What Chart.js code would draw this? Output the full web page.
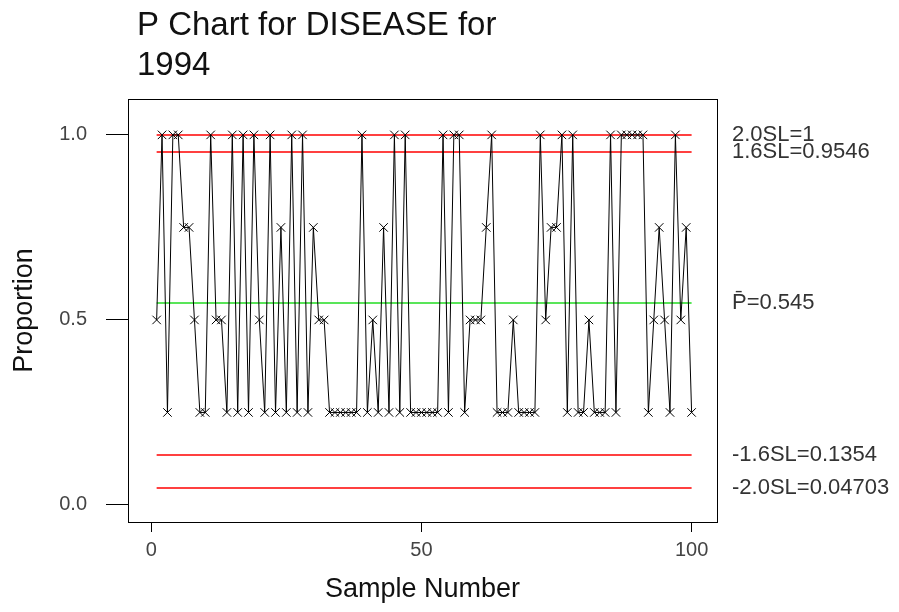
<!DOCTYPE html>
<html>
<head>
<meta charset="utf-8">
<script src="https://cdn.jsdelivr.net/npm/chart.js@4.4.1/dist/chart.umd.min.js"></script>
<style>
  html, body { margin: 0; padding: 0; background: #fff; }
  #wrap { width: 899px; height: 612px; }
</style>
</head>
<body>
<div id="wrap"><canvas id="pChart"></canvas></div>
<script>
// proportion of DISEASE per sample, 1994 (samples 1..100)
const proportions = [
    0.5, 1, 0.25, 1, 1, 0.75, 0.75, 0.5, 0.25, 0.25,
    1, 0.5, 0.5, 0.25, 1, 0.25, 1, 0.25, 1, 0.5,
    0.25, 1, 0.25, 0.75, 0.25, 1, 0.25, 1, 0.25, 0.75,
    0.5, 0.5, 0.25, 0.25, 0.25, 0.25, 0.25, 0.25, 1, 0.25,
    0.5, 0.25, 0.75, 0.25, 1, 0.25, 1, 0.25, 0.25, 0.25,
    0.25, 0.25, 0.25, 1, 0.25, 1, 1, 0.25, 0.5, 0.5,
    0.5, 0.75, 1, 0.25, 0.25, 0.25, 0.5, 0.25, 0.25, 0.25,
    0.25, 1, 0.5, 0.75, 0.75, 1, 0.25, 1, 0.25, 0.25,
    0.5, 0.25, 0.25, 0.25, 1, 0.25, 1, 1, 1, 1,
    1, 0.25, 0.5, 0.75, 0.5, 0.25, 1, 0.5, 0.75, 0.25
];
const sampleNumbers = proportions.map((p, i) => i + 1);

// control limits and centre line
const limitLabels = ['2.0SL=1', '1.6SL=0.9546', 'P\u0304=0.545', '-1.6SL=0.1354', '-2.0SL=0.04703'];
const limitValues = [1, 0.9546, 0.545, 0.1354, 0.04703];
const limitColors = ['#ff0000', '#ff0000', '#22dd22', '#ff0000', '#ff0000'];

const titleLines = ['P Chart for DISEASE for', '1994'];
const xTicks = [0, 50, 100];
const yTicks = [0, 0.5, 1];

const FONT = '"Liberation Sans", Arial, sans-serif';

// limit lines, their labels, the box and the title
const pChartPlugin = {
    id: 'pChartExtras',
    beforeDatasetsDraw(chart) {
        const ctx = chart.ctx;
        const x = chart.scales.x, y = chart.scales.y;
        const x0 = x.getPixelForValue(sampleNumbers[0]);
        const x1 = x.getPixelForValue(sampleNumbers[sampleNumbers.length - 1]);
        ctx.save();
        ctx.lineWidth = 1.5;
        limitValues.forEach((v, i) => {
            const py = Math.round(y.getPixelForValue(v));
            ctx.strokeStyle = limitColors[i];
            ctx.beginPath();
            ctx.moveTo(x0, py);
            ctx.lineTo(x1, py);
            ctx.stroke();
        });
        ctx.restore();
    },
    afterDraw(chart) {
        const ctx = chart.ctx;
        const a = chart.chartArea;
        const y = chart.scales.y;
        ctx.save();
        ctx.strokeStyle = '#000';
        ctx.lineWidth = 1;
        ctx.strokeRect(Math.round(a.left) + 0.5, Math.round(a.top) + 0.5,
            Math.round(a.right - a.left), Math.round(a.bottom - a.top));

        ctx.fillStyle = '#333';
        ctx.font = '22px ' + FONT;
        ctx.textAlign = 'left';
        ctx.textBaseline = 'middle';
        limitLabels.forEach((t, i) => {
            ctx.fillText(t, a.right + 15, y.getPixelForValue(limitValues[i]));
        });

        ctx.fillStyle = '#111';
        ctx.font = '33px ' + FONT;
        ctx.textBaseline = 'alphabetic';
        titleLines.forEach((t, i) => {
            ctx.fillText(t, a.left + 9, 35 + i * 40);
        });
        ctx.restore();
    }
};

const ctx = document.getElementById('pChart').getContext('2d');
const pChart = new Chart(ctx, {
    type: 'line',
    data: {
        datasets: [{
            label: 'Proportion',
            data: proportions.map((p, i) => ({x: sampleNumbers[i], y: p})),
            borderColor: '#000',
            borderWidth: 1,
            pointStyle: 'crossRot',
            pointRadius: 6,
            pointBorderColor: '#000',
            pointBorderWidth: 1,
            tension: 0
        }]
    },
    options: {
        responsive: true,
        maintainAspectRatio: false,
        animation: false,
        layout: {
            padding: {left: 0, right: 182, top: 99, bottom: 0}
        },
        plugins: {
            legend: {display: false},
            tooltip: {enabled: false}
        },
        scales: {
            x: {
                type: 'linear',
                min: -4.3,
                max: 104.7,
                afterBuildTicks: s => { s.ticks = xTicks.map(v => ({value: v})); },
                afterFit: s => { s.height = 90; },
                grid: {drawOnChartArea: false, tickLength: 10, color: '#000'},
                border: {color: '#000'},
                ticks: {
                    color: '#444',
                    padding: 6,
                    maxRotation: 0,
                    font: {family: FONT, size: 20}
                },
                title: {
                    display: true,
                    text: 'Sample Number',
                    color: '#111',
                    font: {family: FONT, size: 27},
                    padding: {top: 0, bottom: 6}
                }
            },
            y: {
                min: -0.046,
                max: 1.097,
                afterBuildTicks: s => { s.ticks = yTicks.map(v => ({value: v})); },
                afterFit: s => { s.width = 128; },
                grid: {drawOnChartArea: false, tickLength: 22, color: '#000'},
                border: {color: '#000'},
                ticks: {
                    color: '#444',
                    padding: 19,
                    callback: v => v.toFixed(1),
                    font: {family: FONT, size: 20}
                },
                title: {
                    display: true,
                    text: 'Proportion',
                    color: '#111',
                    font: {family: FONT, size: 27},
                    padding: {top: 8, bottom: 0}
                }
            }
        }
    },
    plugins: [pChartPlugin]
});
</script>
</body>
</html>
